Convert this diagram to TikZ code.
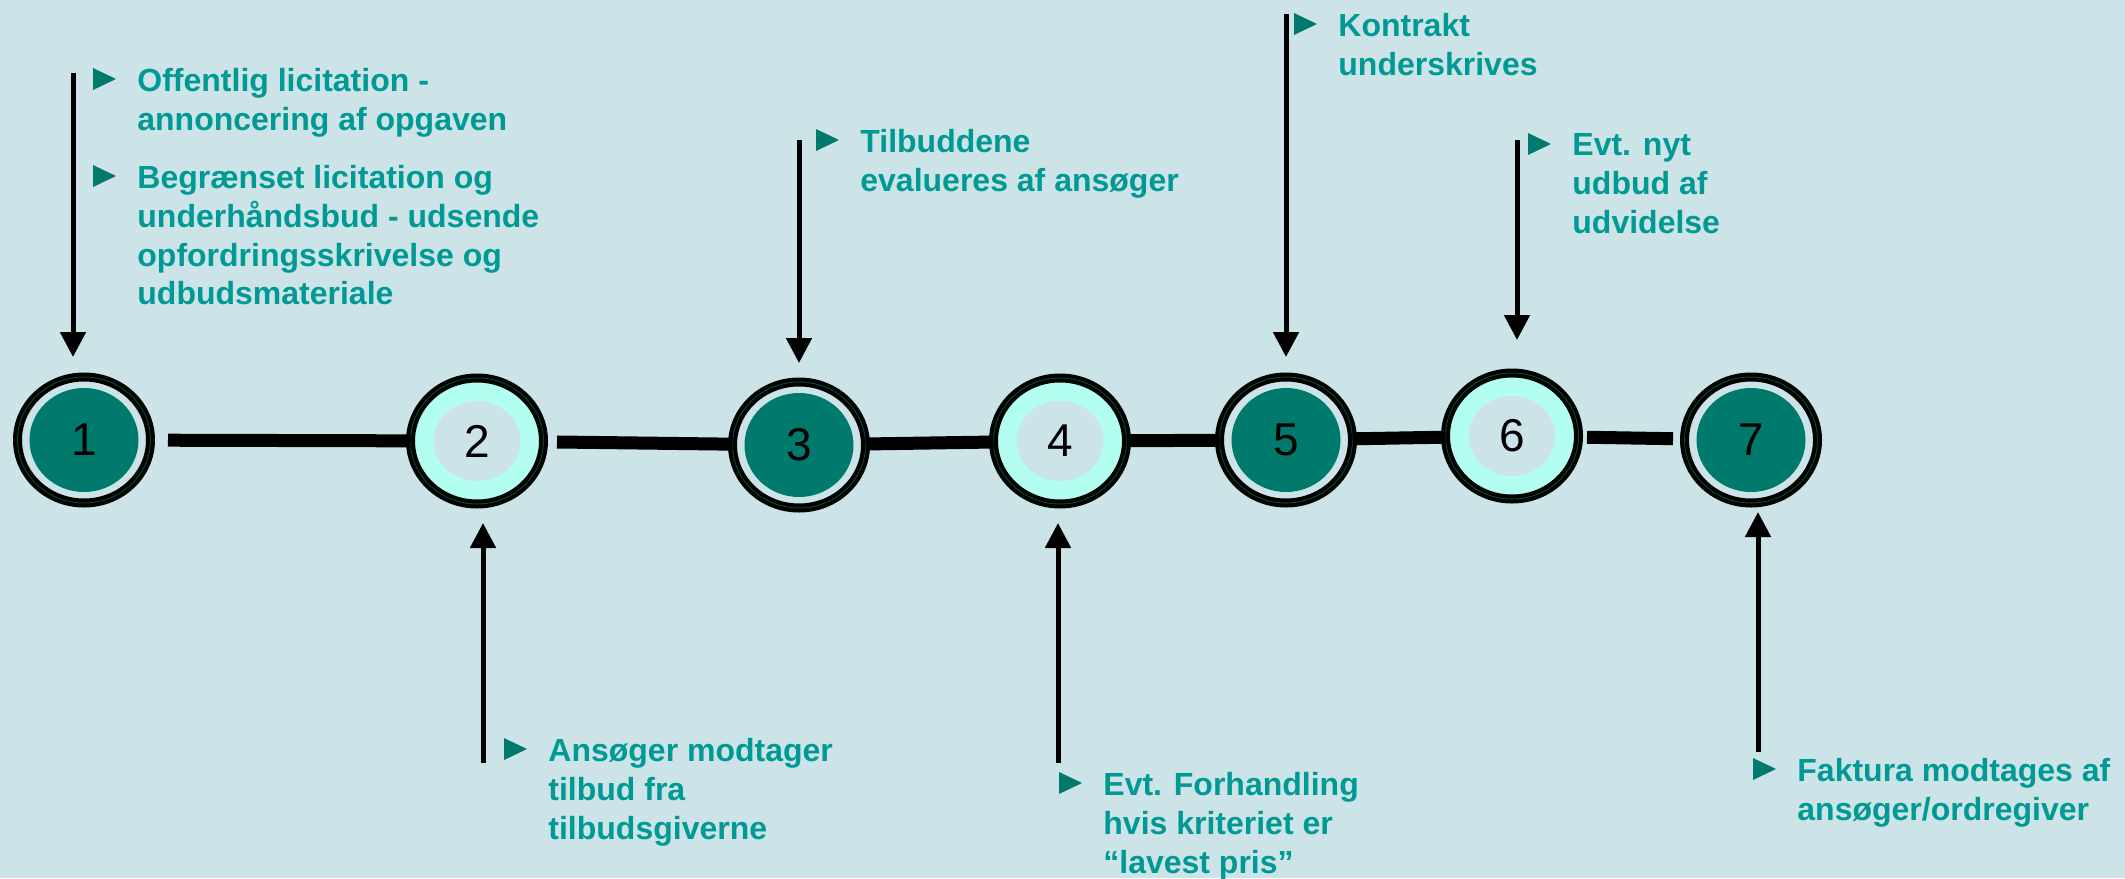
\documentclass[tikz,border=0pt]{standalone}
\usepackage{fontspec}
\setmainfont{Liberation Sans}
\usepackage{tikz}
\usepackage{xcolor}
\usetikzlibrary{arrows.meta}
\usetikzlibrary{shapes.geometric}
\definecolor{bgcol}{RGB}{204,228,232}
\definecolor{notecol}{RGB}{0,153,148}
\definecolor{discol}{RGB}{0,122,108}
\definecolor{ringcol}{RGB}{178,255,242}
\definecolor{gapcol}{RGB}{0,70,50}
\tikzset{>=latex}
\tikzstyle{stage}=[ellipse,draw=black,line width=2pt,double=gapcol,double distance=0.5pt,inner sep=0,outer sep=0,minimum width=66.5pt,minimum height=63pt,font=\fontsize{23}{23}\selectfont]
\tikzstyle{stage dark}=[stage,fill=bgcol,path picture={\fill[discol] (path picture bounding box.center) ellipse (27.25pt and 26pt);}]
\tikzstyle{stage light}=[stage,fill=ringcol,path picture={\fill[bgcol] (path picture bounding box.center) ellipse (21.75pt and 20pt);}]
\tikzstyle{link}=[line width=6.5pt]
\tikzstyle{pointer}=[-{Triangle[width=12.5pt,length=12.5pt]},line width=2.5pt]
\tikzstyle{note}=[anchor=north west,inner sep=0,align=left,text=notecol,font=\bfseries\fontsize{16}{19.4}\selectfont]
\tikzstyle{bullet}=[fill=discol]

\begin{document}
\begin{tikzpicture}[x=0.5pt,y=-0.5pt]
  \useasboundingbox (0,0) rectangle (2125,878);
  \fill[bgcol] (0,0) rectangle (2125,878);

  % STAGES
  \node[stage dark]  (S1) at (84,440)   {1};
  \node[stage light] (S2) at (477,441)  {2};
  \node[stage dark]  (S3) at (799,445)  {3};
  \node[stage light] (S4) at (1060,441) {4};
  \node[stage dark]  (S5) at (1286,440) {5};
  \node[stage light] (S6) at (1512,436) {6};
  \node[stage dark]  (S7) at (1751,440) {7};

  % LINKS
  \draw[link,shorten <=8.75pt] (S1) -- (S2);
  \draw[link,shorten <=6.75pt] (S2) -- (S3);
  \draw[link] (S3) -- (S4);
  \draw[link] (S4) -- (S5);
  \draw[link] (S5) -- (S6);
  \draw[link,shorten <=4.25pt,shorten >=5.75pt] (S6) -- (S7);

  % NOTES
  \node[note] (T1a) at (137,68)  {Offentlig licitation -\\annoncering af opgaven};
  \node[note] (T1b) at (137,165) {Begrænset licitation og\\underhåndsbud - udsende\\opfordringsskrivelse og\\udbudsmateriale};
  \node[note] (T2)  at (548,738) {Ansøger modtager\\tilbud fra\\tilbudsgiverne};
  \node[note] (T3)  at (860,129) {Tilbuddene\\evalueres af ansøger};
  \node[note] (T4)  at (1103,772) {Evt. Forhandling\\hvis kriteriet er\\“lavest pris”};
  \node[note] (T5)  at (1338,13) {Kontrakt\\underskrives};
  \node[note] (T6)  at (1572,133) {Evt. nyt\\udbud af\\udvidelse};
  \node[note] (T7)  at (1797,758) {Faktura modtages af\\ansøger/ordregiver};

  % BULLETS
  \fill[bullet] (T1a.north west) ++(-44,0) --++ (0,22) --++ (23,-11) -- cycle;
  \fill[bullet] (T1b.north west) ++(-44,0) --++ (0,22) --++ (23,-11) -- cycle;
  \fill[bullet] (T2.north west)  ++(-44,0) --++ (0,22) --++ (23,-11) -- cycle;
  \fill[bullet] (T3.north west)  ++(-44,0) --++ (0,22) --++ (23,-11) -- cycle;
  \fill[bullet] (T4.north west)  ++(-44,0) --++ (0,22) --++ (23,-11) -- cycle;
  \fill[bullet] (T5.north west)  ++(-44,0) --++ (0,22) --++ (23,-11) -- cycle;
  \fill[bullet] (T6.north west)  ++(-44,0) --++ (0,22) --++ (23,-11) -- cycle;
  \fill[bullet] (T7.north west)  ++(-44,0) --++ (0,22) --++ (23,-11) -- cycle;

  % POINTERS
  \coordinate (A1) at (73,73);
  \coordinate (A2) at (483,763);
  \coordinate (A3) at (799,140);
  \coordinate (A4) at (1058,763);
  \coordinate (A5) at (1286,14);
  \coordinate (A6) at (1517,140);
  \coordinate (A7) at (1758,752);
  \draw[pointer,shorten >=10pt]  (A1) -- (A1 |- S1.north);
  \draw[pointer,shorten >=9.5pt] (A2) -- (A2 |- S2.south);
  \draw[pointer,shorten >=9.5pt] (A3) -- (A3 |- S3.north);
  \draw[pointer,shorten >=9.5pt] (A4) -- (A4 |- S4.south);
  \draw[pointer,shorten >=10pt]  (A5) -- (A5 |- S5.north);
  \draw[pointer,shorten >=16.5pt] (A6) -- (A6 |- S6.north);
  \draw[pointer,shorten >=4.5pt] (A7) -- (A7 |- S7.south);

\end{tikzpicture}
\end{document}
